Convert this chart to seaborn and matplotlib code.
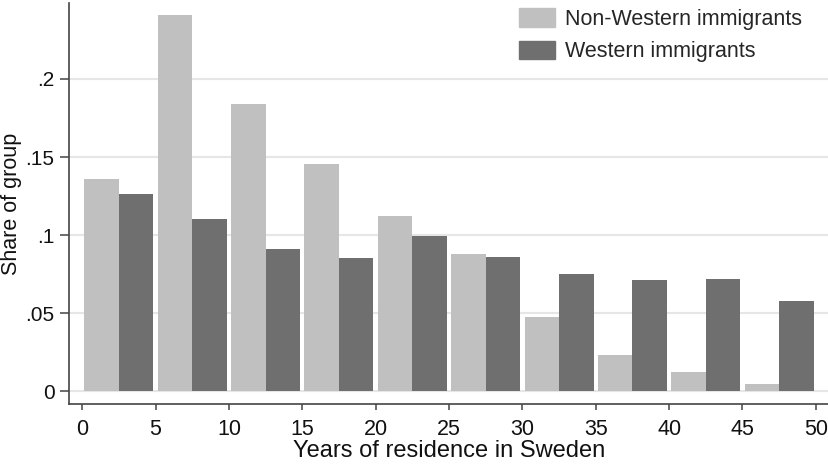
import numpy as np
import pandas as pd
import matplotlib
matplotlib.use("Agg")
import matplotlib.pyplot as plt
from matplotlib.patches import Patch
import seaborn as sns

# Données (part du groupe par tranche de 5 ans)
bin_start = [0, 5, 10, 15, 20, 25, 30, 35, 40, 45]
non_western = [0.136, 0.241, 0.184, 0.1455, 0.112, 0.088, 0.0475, 0.023, 0.012, 0.0045]
western = [0.126, 0.110, 0.091, 0.085, 0.0995, 0.086, 0.075, 0.071, 0.072, 0.0578]
groups = ["Non-Western immigrants", "Western immigrants"]
colors = ["#c0c0c0", "#6f6f6f"]

df = pd.DataFrame({
    "years": [b + 2.5 for b in bin_start] * 2,
    "share": non_western + western,
    "group": [groups[0]] * len(bin_start) + [groups[1]] * len(bin_start),
})

sns.set_style("white")
plt.rcParams["font.family"] = ["Liberation Sans", "DejaVu Sans"]

fig = plt.figure(figsize=(8.29, 4.66), dpi=100)
ax = fig.add_axes([69 / 829, 1 - 404 / 466, 760 / 829, 401 / 466])

sns.histplot(data=df, x="years", weights="share", hue="group", hue_order=groups,
             binwidth=5, binrange=(0, 50), multiple="dodge", shrink=0.94,
             palette=colors, alpha=1, linewidth=0, legend=False, ax=ax)

ax.set_xlim(-0.9, 50.9)
ax.set_ylim(-0.0083, 0.2487)
ax.set_xticks(range(0, 55, 5))
ax.set_yticks([0, 0.05, 0.1, 0.15, 0.2])
ax.set_yticklabels(["0", ".05", ".1", ".15", ".2"])
ax.yaxis.grid(True, color="#e6e6e6", linewidth=1.5)
ax.set_axisbelow(True)

for s in ["top", "right"]:
    ax.spines[s].set_visible(False)
for s in ["left", "bottom"]:
    ax.spines[s].set_color("#444444")
    ax.spines[s].set_linewidth(1.2)
ax.tick_params(axis="x", bottom=True, direction="out", length=4.5, width=1.1,
               color="#444444", labelsize=15.5, labelcolor="#111111", pad=6)
ax.tick_params(axis="y", left=True, direction="out", length=6.5, width=1.1,
               color="#444444", labelsize=15, labelcolor="#111111", pad=4)

ax.set_xlabel("Years of residence in Sweden", fontsize=17, labelpad=0, color="#111111")
ax.set_ylabel("Share of group", fontsize=15.5, color="#111111")
ax.yaxis.set_label_coords(-0.062, 0.5)

handles = [Patch(facecolor=c, edgecolor=c) for c in colors]
ax.legend(handles, groups, loc="upper right", bbox_to_anchor=(0.99, 1.035), frameon=False,
          fontsize=15.5, handlelength=1.7, handleheight=0.95, handletextpad=0.45,
          labelspacing=0.5)

fig.savefig("out.png", dpi=100)
